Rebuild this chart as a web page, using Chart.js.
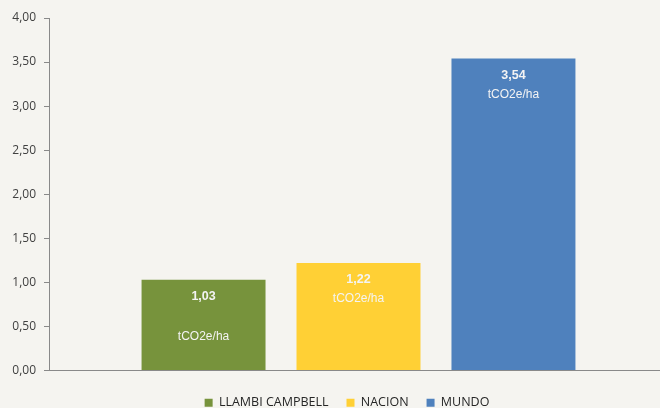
<!DOCTYPE html>
<html>
<head>
<meta charset="utf-8">
<script src="https://cdn.jsdelivr.net/npm/chart.js@4"></script>
<style>
  html, body { margin: 0; padding: 0; background: #F5F4F0; overflow: hidden; }
  #wrap { width: 660px; height: 408px; overflow: hidden; }
</style>
</head>
<body>
<div id="wrap"><canvas id="grafico" width="668" height="408"></canvas></div>
<script>
const series = ['LLAMBI CAMPBELL', 'NACION', 'MUNDO']
const valores = [1.03, 1.22, 3.54]
const colores = ['#77933C', '#FFD035', '#4F81BD']
const unidad = 'tCO2e/ha'
// lineas vacias entre valor y unidad (la verde tiene un salto extra)
const saltos = [1, 0, 0]

const coma = v => v.toFixed(2).replace('.', ',')

const etiquetas = {
  id: 'etiquetas',
  afterDatasetsDraw(chart) {
    const ctx = chart.ctx
    ctx.save()
    ctx.textAlign = 'center'
    ctx.textBaseline = 'middle'
    ctx.fillStyle = '#F4F4F4'
    chart.data.datasets.forEach((ds, i) => {
      const bar = chart.getDatasetMeta(i).data[0]
      const y = bar.y + 17
      ctx.font = 'bold 12.5px "Liberation Sans Narrow", "Liberation Sans", sans-serif'
      ctx.fillText(coma(ds.data[0]), bar.x, y)
      ctx.font = '12px "Liberation Sans Narrow", "Liberation Sans", sans-serif'
      ctx.fillText(unidad, bar.x, y + 19 + saltos[i] * 21)
    })
    ctx.restore()
  }
}

// corre la leyenda un poco a la derecha como en el original
const moverLeyenda = {
  id: 'moverLeyenda',
  afterLayout(chart) {
    chart.legend.left += 13
    chart.legend.right += 13
  }
}

new Chart(document.getElementById('grafico'), {
  type: 'bar',
  data: {
    labels: [''],
    datasets: series.map((s, i) => ({
      label: s,
      data: [valores[i]],
      backgroundColor: colores[i],
      categoryPercentage: 0.751,
      barPercentage: 0.8
    }))
  },
  options: {
    responsive: false,
    animation: false,
    layout: { padding: { top: 18, left: 0, right: 0, bottom: -11 } },
    plugins: {
      tooltip: { enabled: false },
      legend: {
        position: 'bottom',
        labels: {
          boxWidth: 8,
          boxHeight: 8,
          padding: 18,
          color: '#262626',
          font: { family: 'Open Sans', size: 12.5 }
        }
      }
    },
    scales: {
      x: {
        grid: { display: false },
        border: { display: true, color: '#898989', width: 1 },
        ticks: { display: false }
      },
      y: {
        min: 0,
        max: 4,
        ticks: {
          stepSize: 0.5,
          padding: 8,
          color: '#404040',
          font: { family: 'Open Sans', size: 12 },
          callback: v => coma(v)
        },
        grid: { display: true, drawOnChartArea: false, drawTicks: true, tickLength: 5, color: '#898989' },
        border: { display: true, color: '#898989', width: 1 },
        afterFit: s => { s.width = 49 }
      }
    }
  },
  plugins: [etiquetas, moverLeyenda]
})
</script>
</body>
</html>
